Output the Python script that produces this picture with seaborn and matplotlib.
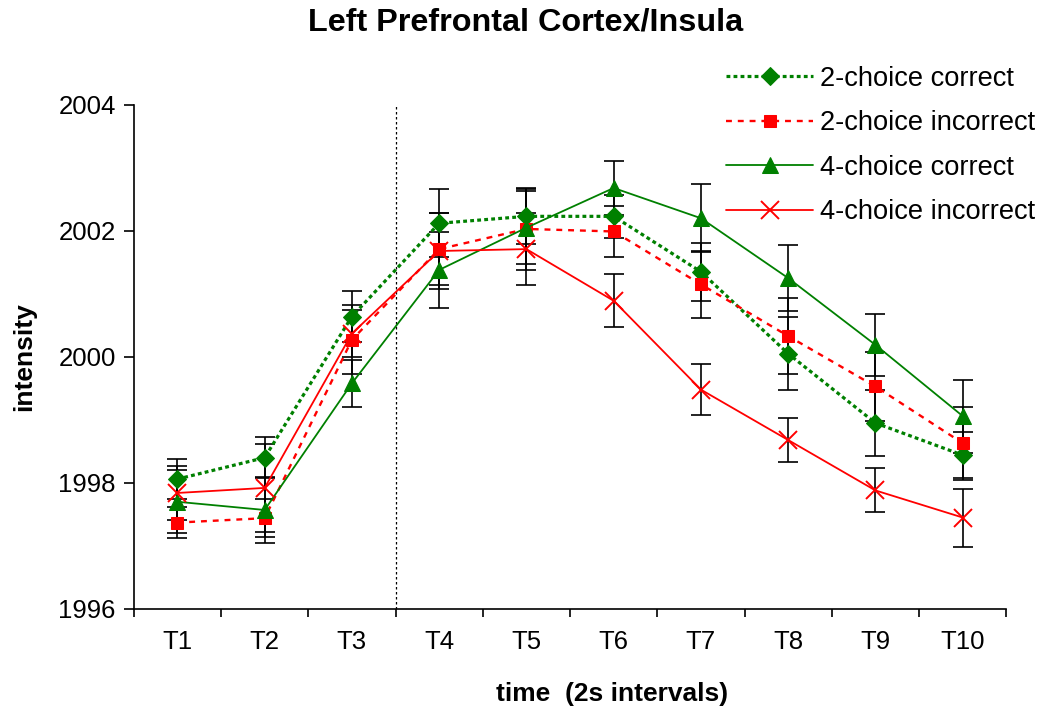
import numpy as np
import pandas as pd
import matplotlib
matplotlib.use("Agg")
import matplotlib.pyplot as plt
import seaborn as sns

times = ["T1", "T2", "T3", "T4", "T5", "T6", "T7", "T8", "T9", "T10"]

c2_correct = [1998.06, 1998.40, 2000.64, 2002.12, 2002.23, 2002.23, 2001.35, 2000.05, 1998.95, 1998.44]
c2_correct_err = [0.32, 0.33, 0.40, 0.54, 0.44, 0.34, 0.46, 0.58, 0.53, 0.37]

c2_incorrect = [1997.37, 1997.44, 2000.27, 2001.71, 2002.03, 2001.99, 2001.15, 2000.33, 1999.53, 1998.63]
c2_incorrect_err = [0.25, 0.30, 0.55, 0.57, 0.65, 0.40, 0.53, 0.60, 0.55, 0.58]

c4_correct = [1997.70, 1997.57, 1999.58, 2001.38, 2002.05, 2002.68, 2002.20, 2001.25, 2000.19, 1999.06]
c4_correct_err = [0.50, 0.52, 0.37, 0.60, 0.58, 0.43, 0.54, 0.53, 0.49, 0.58]

c4_incorrect = [1997.84, 1997.92, 2000.37, 2001.68, 2001.71, 2000.89, 1999.48, 1998.68, 1997.88, 1997.45]
c4_incorrect_err = [0.43, 0.70, 0.37, 0.60, 0.57, 0.42, 0.41, 0.35, 0.35, 0.46]

GREEN = "#008000"
RED = "#ff0000"

sns.set_style("white")
plt.rcParams["font.family"] = ["Liberation Sans", "DejaVu Sans"]
plt.rcParams["text.color"] = "black"
plt.rcParams["axes.labelcolor"] = "black"
plt.rcParams["xtick.color"] = "black"
plt.rcParams["ytick.color"] = "black"

fig = plt.figure(figsize=(10.45, 7.13), dpi=100)
ax = fig.add_axes([0.128, 0.146, 0.835, 0.707])

pos = np.arange(len(times))

series = [
    ("2-choice correct", c2_correct, c2_correct_err,
     dict(color=GREEN, marker="D", markersize=9.5, linewidth=2.3, linestyle=(0, (1.2, 1.0)))),
    ("2-choice incorrect", c2_incorrect, c2_incorrect_err,
     dict(color=RED, marker="s", markersize=8.5, linewidth=1.7, linestyle=(0, (2.5, 2.5)))),
    ("4-choice correct", c4_correct, c4_correct_err,
     dict(color=GREEN, marker="^", markersize=11, linewidth=1.3, linestyle="-")),
    ("4-choice incorrect", c4_incorrect, c4_incorrect_err,
     dict(color=RED, marker="x", markersize=13, markeredgewidth=1.4, linewidth=1.3, linestyle="-")),
]

# error bars first, then the lines with markers on top
for name, vals, errs, style in series:
    ax.errorbar(pos, vals, yerr=errs, fmt="none", ecolor="black",
                elinewidth=1.2, capsize=7, capthick=1.2, zorder=2)

for name, vals, errs, style in series:
    df = pd.DataFrame({"pos": pos, "value": vals})
    sns.lineplot(data=df, x="pos", y="value", ax=ax, label=name,
                 markeredgecolor=style["color"], zorder=3, **style)

ax.axvline(2.5, color="black", linewidth=0.9, linestyle=(0, (2, 2)), zorder=1)

ax.set_xlim(-0.5, len(times) - 0.5)
ax.set_ylim(1996, 2004)
ax.set_yticks([1996, 1998, 2000, 2002, 2004])
ax.set_xticks(pos)
ax.set_xticklabels(times)
ax.set_xticks(np.arange(-0.5, len(times)), minor=True)
ax.tick_params(axis="x", which="major", length=0, pad=15, labelsize=18.5)
ax.tick_params(axis="x", which="minor", length=6, width=1.2, direction="out", bottom=True)
ax.tick_params(axis="y", length=7, width=1.2, direction="out", left=True, pad=6, labelsize=18.5)

for side in ["top", "right"]:
    ax.spines[side].set_visible(False)
for side in ["left", "bottom"]:
    ax.spines[side].set_color("black")
    ax.spines[side].set_linewidth(1.2)

ax.set_xlabel("time  (2s intervals)", fontsize=19, fontweight="bold")
ax.set_ylabel("intensity", fontsize=19, fontweight="bold")
ax.xaxis.set_label_coords(0.548, -0.145)
ax.yaxis.set_label_coords(-0.112, 0.5)

fig.suptitle("Left Prefrontal Cortex/Insula", x=0.503, y=0.968, va="center",
             fontsize=23.3, fontweight="bold")

handles, labels = ax.get_legend_handles_labels()
ax.get_legend().remove()
fig.legend(handles, labels, loc="upper left", bbox_to_anchor=(0.695, 0.908),
           frameon=False, fontsize=19.6, handlelength=3.2, handletextpad=0.25,
           labelspacing=0.68, borderpad=0, borderaxespad=0)

fig.savefig("out.png", dpi=100)
